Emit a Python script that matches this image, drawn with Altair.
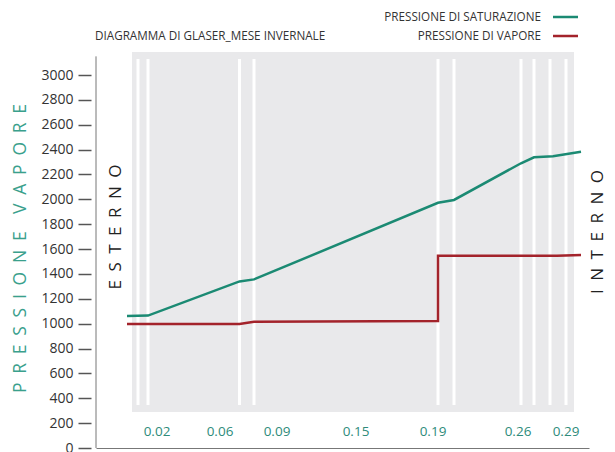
import altair as alt
import pandas as pd

# ---- data (x = schematic position across the wall, y = pressure in Pa) ----
sat_x = [31, 52, 143.5, 158, 342, 358, 425, 438, 457, 485]
sat_y = [1062, 1065, 1340, 1356, 1972, 1995, 2290, 2338, 2347, 2382]
vap_x = [31, 143.5, 158, 342, 342, 461, 485]
vap_y = [997, 997, 1016, 1022, 1547, 1547, 1553]
boundaries = [42, 52, 143.5, 158, 342, 358, 425, 438, 454, 470]
bound_lo, bound_hi = 346, 3129
wall_x = [36, 478]
wall_y = [290, 3185]
label_x = [61, 124, 181, 260, 337, 422, 470]
labels = ["0.02", "0.06", "0.09", "0.15", "0.19", "0.26", "0.29"]
y_ticks = list(range(0, 3001, 200))
axis_top = 3150

TEAL = "#1b8a73"
RED = "#a3232b"
FONT = "Open Sans"

xs = alt.Scale(domain=[0, 493], nice=False, zero=False)
ys = alt.Scale(domain=[0, 3185], nice=False, zero=False)

sp = "\u2002"
ytitle = sp.join(list("PRESSIONE")) + sp + sp + sp.join(list("VAPORE"))

yaxis = alt.Axis(values=y_ticks, format="d", domain=False, grid=False, ticks=True,
                 tickSize=13, tickWidth=1.5, tickColor="#555", offset=5,
                 labelPadding=5, labelFont=FONT, labelFontSize=14, labelColor="#333",
                 title=ytitle, titleColor="#3aa08c", titleFont=FONT, titleFontSize=17.5,
                 titleFontWeight="normal", titleX=-71, titleY=196, titleBaseline="middle")
xaxis = alt.Axis(domain=True, domainColor="#777", ticks=False, labels=False,
                 grid=False, title=None)

wall = pd.DataFrame({"x": [wall_x[0]], "x2": [wall_x[1]], "y": [wall_y[0]], "y2": [wall_y[1]]})
rect = alt.Chart(wall).mark_rect(color="#e9e9eb").encode(
    x=alt.X("x:Q", scale=xs, axis=xaxis), x2="x2:Q",
    y=alt.Y("y:Q", scale=ys, axis=yaxis), y2="y2:Q")

bdf = pd.DataFrame({"x": boundaries, "y": [bound_lo] * len(boundaries),
                    "y2": [bound_hi] * len(boundaries)})
bounds = alt.Chart(bdf).mark_rule(color="white", strokeWidth=3).encode(
    x=alt.X("x:Q", scale=xs, axis=xaxis),
    y=alt.Y("y:Q", scale=ys, axis=yaxis), y2="y2:Q")

left_line = alt.Chart(pd.DataFrame({"x": [0], "y": [0], "y2": [axis_top]})).mark_rule(
    color="#777", strokeWidth=1).encode(
    x=alt.X("x:Q", scale=xs, axis=xaxis),
    y=alt.Y("y:Q", scale=ys, axis=yaxis), y2="y2:Q")

sat = pd.DataFrame({"x": sat_x, "y": sat_y, "i": range(len(sat_x))})
vap = pd.DataFrame({"x": vap_x, "y": vap_y, "i": range(len(vap_x))})
sat_line = alt.Chart(sat).mark_line(color=TEAL, strokeWidth=2.5).encode(
    x=alt.X("x:Q", scale=xs, axis=xaxis),
    y=alt.Y("y:Q", scale=ys, axis=yaxis), order="i:Q")
vap_line = alt.Chart(vap).mark_line(color=RED, strokeWidth=2.5).encode(
    x=alt.X("x:Q", scale=xs, axis=xaxis),
    y=alt.Y("y:Q", scale=ys, axis=yaxis), order="i:Q")

ldf = pd.DataFrame({"x": label_x, "t": labels})
xlabels = alt.Chart(ldf).mark_text(font=FONT, fontSize=13.5, color="#2e8b7a",
                                    baseline="middle").encode(
    x=alt.X("x:Q", scale=xs, axis=xaxis), y=alt.value(380), text="t:N")

one = pd.DataFrame({"a": [0]})


def txt(text, x, y, **kw):
    return alt.Chart(one).mark_text(font=FONT, **kw).encode(
        x=alt.value(x), y=alt.value(y), text=alt.value(text))


title = txt("DIAGRAMMA DI GLASER_MESE INVERNALE", -1, -16, fontSize=11.7,
            color="#333", align="left", baseline="middle")
leg1 = txt("PRESSIONE DI SATURAZIONE", 445, -35, fontSize=11.7, color="#333",
           align="right", baseline="middle")
leg2 = txt("PRESSIONE DI VAPORE", 445, -16, fontSize=11.7, color="#333",
           align="right", baseline="middle")
esterno = txt(sp.join(list("ESTERNO")), 20, 175, fontSize=17, color="#222",
              angle=270, align="center", baseline="middle")
interno = txt(sp.join(list("INTERNO")), 502, 180, fontSize=17, color="#222",
              angle=270, align="center", baseline="middle")

legl1 = alt.Chart(one).mark_rule(color=TEAL, strokeWidth=2.5).encode(
    x=alt.value(457), x2=alt.value(482), y=alt.value(-35))
legl2 = alt.Chart(one).mark_rule(color=RED, strokeWidth=2.5).encode(
    x=alt.value(457), x2=alt.value(482), y=alt.value(-16))

chart = alt.layer(rect, bounds, left_line, sat_line, vap_line, xlabels,
                  title, leg1, leg2, esterno, interno, legl1, legl2).properties(
    width=493, height=396,
    autosize=alt.AutoSizeParams(type="none"),
    padding={"left": 88, "top": 44, "right": 18, "bottom": 4},
    background="white",
).configure_view(stroke="transparent")

chart.save("out.html", embed_options={"renderer": "svg", "actions": False})
